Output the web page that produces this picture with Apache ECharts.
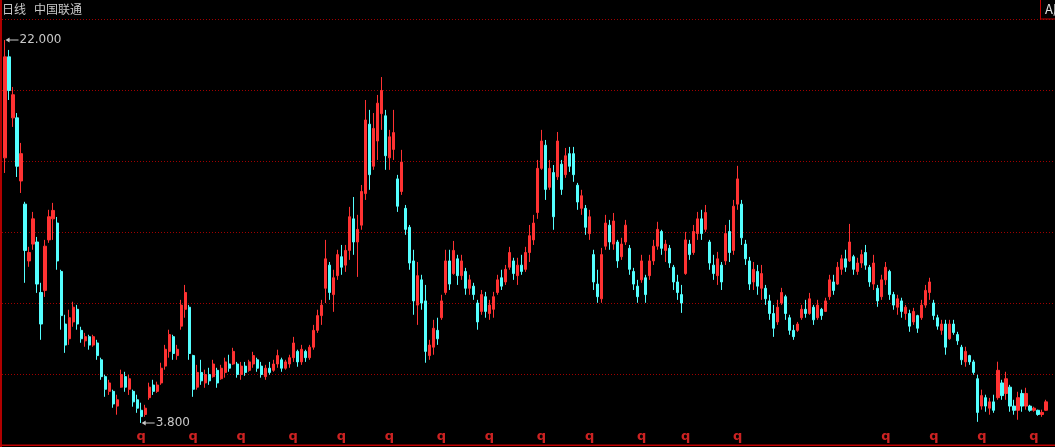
<!DOCTYPE html>
<html>
<head>
<meta charset="utf-8">
<script src="https://cdn.jsdelivr.net/npm/echarts@6/dist/echarts.min.js"></script>
<style>html,body{margin:0;padding:0;background:#000;}#c{width:1055px;height:447px;}</style>
</head>
<body>
<div id="c"></div>
<script>
// daily candles [open, close, low, high]
const segA = [
[16.4,21.2,15.68,22.0],[21.2,19.6,19.15,21.53],[18.3,19.4,17.87,19.77],[18.3,16.0,15.49,18.53],
[15.3,16.6,14.73,17.11],[14.2,12.0,10.46,14.31],[11.5,11.9,11.22,12.17],[12.3,13.5,12.03,13.83],
[12.4,10.4,9.98,12.64],[10.0,8.5,7.75,10.46],[10.1,12.2,9.79,12.5],[12.5,13.6,12.36,13.93],
[13.5,13.9,12.5,14.26],[13.3,11.5,11.08,13.59],[11.0,8.9,8.23,11.08],[8.5,7.5,7.13,8.94],
[7.8,8.8,7.51,9.18],[8.6,9.3,8.37,9.56],[9.2,8.5,8.23,9.41],[8.2,7.8,7.61,8.37],
[7.7,7.9,7.42,8.08],[7.9,7.5,7.28,7.99],[7.5,7.9,7.42,7.99],[7.6,7.0,6.8,7.75],
[6.8,6.0,5.85,6.9],[6.0,5.4,5.04,6.09],[5.3,5.7,5.13,5.85],[5.3,4.7,4.52,5.38],
[4.6,4.9,4.19,5.14],[5.5,6.1,5.47,6.33],[6.0,5.5,5.28,6.23],[5.4,5.9,5.13,6.09],
[5.3,4.8,4.57,5.38],[4.9,4.5,4.28,5.14],[4.4,4.1,3.8,4.76],[4.2,4.5,4.09,4.66],
[5.0,5.5,4.9,5.71],[5.6,5.3,5.13,5.85],[5.3,5.6,5.23,5.76],[5.7,6.4,5.61,6.66],
[6.5,7.3,6.33,7.51],[7.2,8.0,6.9,8.23],[7.9,7.1,6.8,7.99],[7.0,7.3,6.8,7.51]
];
const segB = [
[8.4,9.4,8.23,9.65],[9.2,10.0,8.8,10.36],[9.3,7.1,6.8,9.41],[7.0,5.4,5.04,7.04],
[5.5,6.2,5.38,6.56],[6.2,5.8,5.61,6.8],[5.7,6.1,5.47,6.33],[6.1,5.8,5.61,6.42],
[6.0,6.6,5.95,6.8],[6.3,5.7,5.47,6.42],[5.9,6.4,5.85,6.56],[6.2,6.7,5.95,6.9],
[6.6,6.4,6.23,7.04],[6.6,7.2,6.56,7.37],[6.6,6.1,5.95,6.7],[6.1,6.5,5.85,6.7],
[6.5,6.2,6.04,6.7],[6.3,6.7,6.23,6.8],[6.6,7.0,6.42,7.18],[6.8,6.4,6.23,6.9],
[6.5,6.1,5.95,6.7],[6.0,6.4,5.85,6.56],[6.4,6.2,6.09,6.7],[6.3,6.6,6.23,6.8],
[6.6,7.0,6.42,7.28],[6.8,6.4,6.23,6.9],[6.4,6.7,6.33,6.8],[6.6,6.9,6.42,7.04],
[6.9,7.6,6.7,7.89],[7.2,6.7,6.47,7.28],[6.7,7.3,6.56,7.51],[7.2,6.9,6.7,7.28],
[6.9,7.4,6.8,7.51],[7.4,8.2,7.28,8.46],[8.2,8.9,8.08,9.18],[8.9,9.4,8.46,9.65],
[10.2,11.6,9.5,12.5],[11.3,10.0,9.65,11.45],[9.9,10.7,9.08,11.08],[10.8,11.8,10.6,12.03],
[11.7,11.2,10.84,12.26],[11.3,12.0,10.98,12.26],[12.0,13.6,11.55,14.07],[13.5,12.4,11.79,14.54]
];
const segC = [
[12.4,13.0,10.74,13.69],[13.2,14.8,12.98,15.11],[14.7,18.2,14.4,19.15],[18.0,15.6,14.88,18.68],
[16.0,17.8,15.83,18.53],[17.2,19.0,16.3,19.39],[18.5,19.6,17.73,20.24],[18.4,16.5,15.83,18.68],
[16.4,17.4,15.83,17.73],[16.8,17.6,16.3,18.68],[15.4,14.1,13.83,15.59],[14.8,16.2,14.64,16.78],
[14.0,13.0,12.74,14.16],[13.1,11.4,11.08,13.21],[11.5,9.6,8.94,12.03],[9.4,10.8,8.46,11.45],
[10.6,9.5,9.18,10.84],[9.6,7.2,6.66,10.36],[7.0,7.5,6.8,7.75],[7.4,8.3,7.04,8.7],
[8.2,7.8,7.51,8.8],[8.8,9.6,8.7,9.89],[10.0,11.5,9.89,12.03],[11.5,10.4,10.12,12.03],
[10.9,12.0,10.84,12.45],[11.6,10.8,10.36,11.79],[10.8,11.5,10.6,11.79],[11.0,10.2,9.89,11.17],
[10.2,10.6,9.89,10.84],[10.3,9.9,9.65,10.46],[9.5,8.6,8.23,9.65],[9.1,9.9,8.94,10.12],
[9.8,9.1,8.8,10.03],[9.0,9.4,8.7,9.65],[9.2,9.8,8.8,10.03],[10.0,10.6,9.89,10.84],
[10.7,10.3,10.12,11.08],[10.5,11.1,10.36,11.31],[11.2,11.9,11.08,12.17],[11.5,10.9,10.6,11.65],
[10.8,11.3,10.36,11.65],[11.3,11.0,10.84,11.79],[11.1,11.9,10.98,12.17],[11.9,12.7,11.45,13.21]
];
const segD = [
[12.5,13.3,12.26,13.69],[13.8,15.9,13.5,16.3],[15.9,17.2,15.83,17.73],[17.0,14.9,14.4,17.25],
[15.0,15.9,14.88,16.3],[15.7,13.6,12.98,16.06],[15.5,17.2,15.35,17.63],[16.1,14.9,14.64,16.3],
[15.6,16.5,15.45,16.87],[16.6,16.0,15.73,16.92],[16.6,15.6,15.26,16.92],[15.1,14.3,13.93,15.21],
[14.0,14.6,13.69,14.88],[14.0,13.1,12.74,14.16],[12.8,13.6,12.5,13.93],[11.8,10.5,10.12,12.03],
[10.4,9.8,9.51,11.08],[9.7,11.8,9.51,12.12],[12.2,13.3,12.03,13.69],[13.2,12.4,12.03,13.45],
[12.3,13.4,12.03,13.78],[12.4,11.5,11.17,12.5],[11.7,12.3,11.55,12.6],[12.4,13.2,12.26,13.45],
[12.1,11.1,10.84,12.26],[11.0,10.4,10.12,11.17],[10.3,9.8,9.51,10.6],[10.6,11.5,10.46,11.79],
[10.7,9.9,9.51,10.84],[10.8,11.5,10.6,11.79],[11.5,12.2,11.31,12.5],[12.2,13.0,12.03,13.36],
[12.9,12.1,11.79,12.98],[12.0,12.3,11.45,12.5],[12.1,11.4,11.17,12.26],[11.2,10.5,10.12,11.31],
[10.5,10.0,9.65,10.84],[9.9,9.5,9.03,10.36],[10.9,12.5,10.84,12.88],[12.3,11.8,11.55,12.5],
[11.9,12.9,11.79,13.21],[12.8,13.5,12.5,13.83],[13.5,12.8,12.5,13.93],[13.0,13.8,12.88,14.16]
];
const segE = [
[12.4,11.4,11.08,12.5],[11.3,10.9,10.6,11.79],[10.8,11.6,10.36,11.93],[11.3,10.5,10.12,11.45],
[11.5,12.8,11.31,13.21],[12.9,11.9,11.45,13.45],[12.0,14.1,11.79,14.4],[14.2,15.4,13.93,16.02],
[14.2,12.6,12.26,14.4],[12.3,11.6,11.31,12.5],[11.5,10.4,10.12,11.69],[10.5,11.1,10.12,11.45],
[11.0,10.3,9.89,11.31],[10.2,10.9,9.65,11.31],[10.2,9.7,9.41,10.36],[9.6,9.0,8.7,9.89],
[9.0,8.3,7.89,9.41],[8.6,9.3,8.46,9.65],[9.5,10.0,9.41,10.22],[9.8,9.0,8.7,9.89],
[8.8,8.2,7.99,8.94],[8.2,7.9,7.75,8.46],[8.2,8.5,8.13,8.6],[8.8,9.2,8.7,9.41],
[9.2,9.0,8.8,9.65],[9.0,9.7,8.94,9.98],[9.3,8.7,8.46,9.41],[8.8,9.4,8.7,9.65],
[9.2,8.9,8.7,9.27],[9.1,9.6,9.08,9.75],[9.8,10.6,9.65,10.84],[10.5,10.1,9.89,10.84],
[10.4,11.2,10.36,11.45],[11.1,11.6,10.84,11.79],[11.6,11.2,10.98,12.03],[11.5,12.4,11.45,13.26],
[11.7,11.1,10.84,11.79],[11.0,11.4,10.84,11.65],[11.4,11.8,11.17,12.03],[11.9,11.3,11.08,12.26],
[11.2,10.5,10.27,11.31],[10.4,11.4,10.12,11.79],[10.2,9.6,9.32,10.36],[9.8,10.6,9.65,10.84]
];
const segF = [
[10.6,11.2,10.36,11.45],[11.0,9.9,9.65,11.08],[9.9,9.4,9.18,10.03],[9.3,9.7,8.94,9.89],
[9.6,9.1,8.8,9.75],[9.0,9.3,8.7,9.41],[9.0,8.4,8.13,9.18],[8.6,9.1,8.46,9.27],
[8.9,8.3,8.08,8.94],[8.8,9.4,8.7,9.65],[9.4,10.1,9.27,10.36],[10.0,10.5,9.65,10.7],
[9.5,8.9,8.7,9.65],[8.8,8.4,8.23,8.94],[8.2,8.5,7.99,8.7],[8.5,7.4,7.04,8.7],
[7.8,8.5,7.75,8.7],[8.5,8.1,7.99,8.7],[8.0,7.7,7.51,8.13],[7.4,6.8,6.56,7.51],
[6.7,7.2,6.47,7.42],[7.0,6.7,6.56,7.04],[6.7,6.2,6.09,6.8],[5.9,4.3,3.85,6.09],
[4.6,5.1,4.43,5.38],[5.0,4.6,4.33,5.14],[4.5,4.8,4.19,4.99],[4.8,4.4,4.28,5.14],
[5.0,6.3,4.9,6.71],[5.7,5.1,4.9,5.85],[5.2,5.9,4.9,6.23],[5.5,4.6,4.33,5.61],
[4.6,4.4,4.19,4.9],[4.4,5.0,3.95,5.28],[5.2,4.6,4.33,5.38],[4.6,5.2,4.43,5.47],
[4.6,4.4,4.33,4.66],[4.4,4.5,4.33,4.57],[4.4,4.2,4.14,4.43],[4.2,4.3,4.09,4.43],
[4.4,4.8,4.38,4.9]
];
// candle indices carrying a dividend ("q") mark
const qIdx = [34,47,59,72,84,96,109,121,134,146,159,170,183,220,232,244,257];
const qLevel = 3.13;
const titleLeft = '日线';
const titleRight = '中国联通';

const ohlc = [].concat(segA, segB, segC, segD, segE, segF);
const cats = ohlc.map((_, i) => i);

const chart = echarts.init(document.getElementById('c'), null, {renderer: 'canvas'});
const gridRed = '#a00000';
chart.setOption({
  backgroundColor: '#000000',
  animation: false,
  grid: [
    {left: 3, right: 7, top: 19, bottom: 2},
    {left: 2, right: 0, top: 19, bottom: 2}
  ],
  xAxis: [
    {type: 'category', data: cats, gridIndex: 0, boundaryGap: true,
     axisLine: {show: false}, axisTick: {show: false}, axisLabel: {show: false}, splitLine: {show: false}},
    {type: 'value', gridIndex: 1, min: 0, max: 1, show: false}
  ],
  yAxis: [
    {type: 'value', gridIndex: 0, min: 2.75, max: 23.0, scale: true,
     axisLine: {show: false}, axisTick: {show: false}, axisLabel: {show: false}, splitLine: {show: false}},
    {type: 'value', gridIndex: 1, min: 0, max: 6, interval: 1,
     axisLine: {show: false}, axisTick: {show: false}, axisLabel: {show: false},
     splitLine: {show: true, lineStyle: {color: gridRed, type: [1, 2], width: 1}}}
  ],
  series: [
    {type: 'line', xAxisIndex: 1, yAxisIndex: 1, data: [], silent: true},
    {
      type: 'candlestick', xAxisIndex: 0, yAxisIndex: 0, data: ohlc,
      barWidth: 2.6,
      itemStyle: {color: '#ff3232', color0: '#54ffff', borderColor: '#ff3232', borderColor0: '#54ffff', borderWidth: 1},
      markPoint: {
        symbol: 'path://M0,3L5,0L5,2.4L16,2.4L16,3.6L5,3.6L5,6Z',
        symbolSize: [13, 5],
        symbolOffset: [7, 0],
        itemStyle: {color: '#c8c8c8'},
        label: {show: true, position: 'right', distance: 1, color: '#c8c8c8', fontSize: 12,
                fontFamily: 'DejaVu Sans', formatter: p => Number(p.value).toFixed(3)},
        data: [{type: 'max', valueDim: 'highest'}, {type: 'min', valueDim: 'lowest'}]
      }
    },
    {
      type: 'scatter', xAxisIndex: 0, yAxisIndex: 0,
      data: qIdx.map(i => [i, qLevel]),
      symbol: 'circle', symbolSize: 1, itemStyle: {color: 'rgba(0,0,0,0)'},
      label: {show: true, position: 'inside', formatter: 'q', color: '#ff2a2a',
              fontSize: 13, fontWeight: 'bold', fontFamily: 'DejaVu Sans'}
    }
  ],
  graphic: [
    {type: 'rect', shape: {x: 0, y: 0, width: 2, height: 447}, style: {fill: '#b00000'}, z: 10},
    {type: 'rect', shape: {x: 0, y: 444.5, width: 1055, height: 1.5}, style: {fill: '#c00000'}, z: 10},
    {type: 'text', x: 2, y: 3, style: {text: titleLeft, fill: '#c8c8c8', fontSize: 12, fontFamily: 'Noto Sans CJK SC'}, z: 10},
    {type: 'text', x: 34, y: 3, style: {text: titleRight, fill: '#c8c8c8', fontSize: 12, fontFamily: 'Noto Sans CJK SC'}, z: 10},
    {type: 'rect', shape: {x: 1040.5, y: -2, width: 20, height: 21}, style: {fill: '#000', stroke: '#c00000', lineWidth: 1}, z: 10},
    {type: 'text', x: 1045, y: 3, style: {text: 'A股', fill: '#e0e0e0', fontSize: 13, fontFamily: 'Noto Sans CJK SC'}, z: 11}
  ]
});
</script>
</body>
</html>
